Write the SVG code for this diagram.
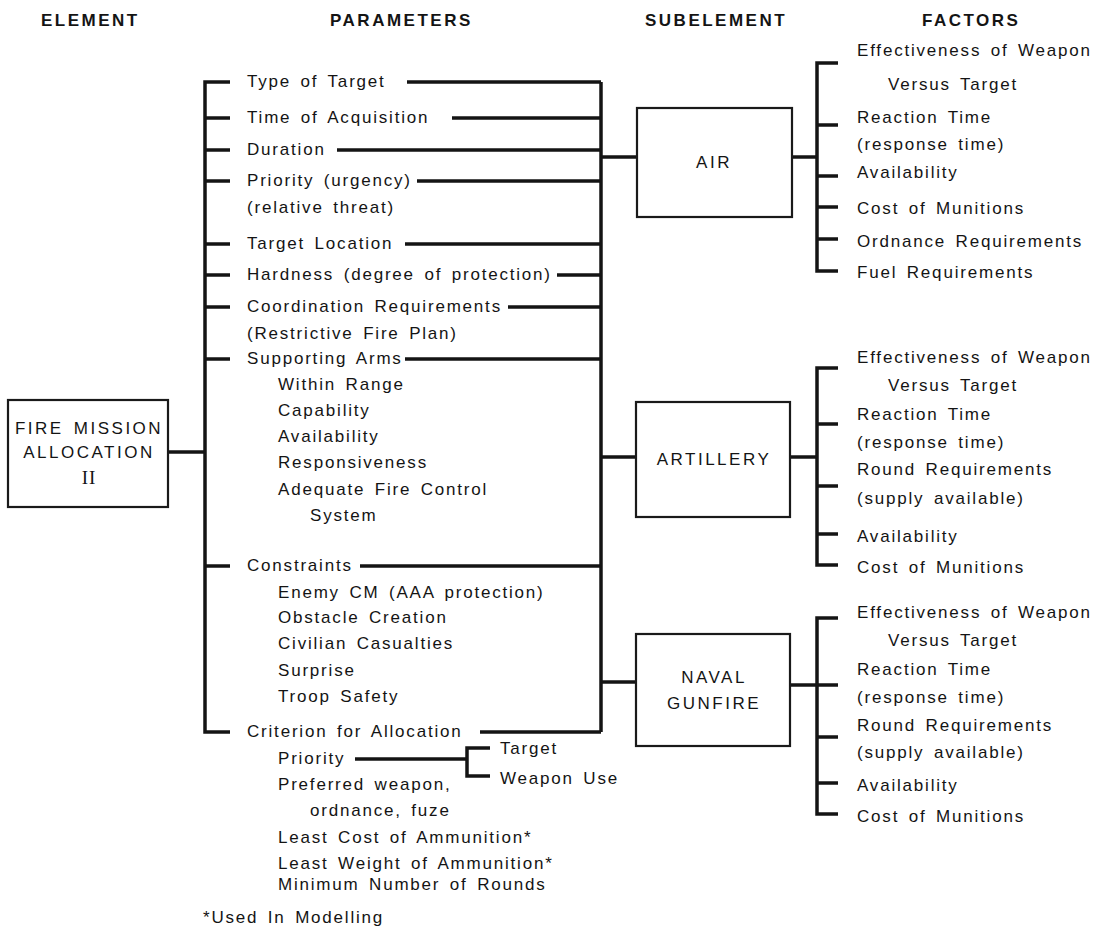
<svg xmlns="http://www.w3.org/2000/svg" width="1098" height="935" viewBox="0 0 1098 935">
  <style>
    .t { font-family: "Liberation Sans", Arial, sans-serif; font-size: 17px; letter-spacing: 1.8px; word-spacing: 3px; fill: #141414; }
    .h { font-weight: bold; letter-spacing: 2.5px; }
    .c { text-anchor: middle; letter-spacing: 2.5px; }
    .serif { font-family: "Liberation Serif", "Times New Roman", serif; font-size: 19px; letter-spacing: 1px; }
    .box { fill: #ffffff; stroke: #1a1a1a; stroke-width: 2.2; }
    .ln { fill: none; stroke: #141414; stroke-width: 3.5; stroke-linecap: butt; stroke-linejoin: miter; }
  </style>
  <rect width="1098" height="935" fill="#ffffff"/>

  <!-- column headings -->
  <g id="headings" class="t h">
    <text x="41" y="26">ELEMENT</text>
    <text x="330" y="26">PARAMETERS</text>
    <text x="645" y="26">SUBELEMENT</text>
    <text x="922" y="26">FACTORS</text>
  </g>

  <!-- connectors: brackets, buses and leader lines -->
  <g id="connectors" class="ln">
    <!-- element to parameter bracket -->
    <path d="M168,452 H205"/>
    <path d="M230,82 H205 V732 H230"/>
    <path d="M205,118 H230 M205,150 H230 M205,181 H230 M205,244 H230 M205,275 H230 M205,307 H230 M205,359 H230 M205,566 H230"/>
    <!-- parameter leaders to subelement bus -->
    <path d="M407,82 H601 M452,118 H601 M337,150 H601 M417,181 H601 M405,244 H601 M557,275 H601 M508,307 H601 M405,359 H601 M360,566 H601 M480,732 H601"/>
    <path d="M601,82 V732"/>
    <!-- bus to subelement boxes -->
    <path d="M601,157 H637 M601,457 H636 M601,682 H636"/>
    <!-- priority sub-bracket -->
    <path d="M355,759 H467"/>
    <path d="M490,748 H467 V776 H490"/>
    <!-- AIR factors -->
    <path d="M792,157 H817"/>
    <path d="M838,63 H817 V271 H838"/>
    <path d="M817,125 H838 M817,176 H838 M817,207 H838 M817,239 H838"/>
    <!-- ARTILLERY factors -->
    <path d="M790,457 H817"/>
    <path d="M838,368 H817 V565 H838"/>
    <path d="M817,424 H838 M817,486 H838 M817,534 H838"/>
    <!-- NAVAL GUNFIRE factors -->
    <path d="M790,685 H817"/>
    <path d="M838,618 H817 V814 H838"/>
    <path d="M817,685 H838 M817,737 H838 M817,783 H838"/>
  </g>

  <!-- element -->
  <g id="fire-mission-allocation">
    <rect class="box" x="8" y="400" width="160" height="107"/>
    <text class="t c" x="89" y="434">FIRE MISSION</text>
    <text class="t c" x="89" y="458">ALLOCATION</text>
    <text class="t c serif" x="89" y="484">II</text>
  </g>

  <!-- parameters -->
  <g id="parameters" class="t">
    <text x="247" y="87">Type of Target</text>
    <text x="247" y="123">Time of Acquisition</text>
    <text x="247" y="155">Duration</text>
    <text x="247" y="186">Priority (urgency)</text>
    <text x="247" y="213">(relative threat)</text>
    <text x="247" y="249">Target Location</text>
    <text x="247" y="280">Hardness (degree of protection)</text>
    <text x="247" y="312">Coordination Requirements</text>
    <text x="247" y="339">(Restrictive Fire Plan)</text>
    <text x="247" y="364">Supporting Arms</text>
    <text x="278" y="390">Within Range</text>
    <text x="278" y="416">Capability</text>
    <text x="278" y="442">Availability</text>
    <text x="278" y="468">Responsiveness</text>
    <text x="278" y="495">Adequate Fire Control</text>
    <text x="310" y="521">System</text>
    <text x="247" y="571">Constraints</text>
    <text x="278" y="598">Enemy CM (AAA protection)</text>
    <text x="278" y="623">Obstacle Creation</text>
    <text x="278" y="649">Civilian Casualties</text>
    <text x="278" y="676">Surprise</text>
    <text x="278" y="702">Troop Safety</text>
    <text x="247" y="737">Criterion for Allocation</text>
    <text x="278" y="764">Priority</text>
    <text x="500" y="754">Target</text>
    <text x="500" y="784">Weapon Use</text>
    <text x="278" y="790">Preferred weapon,</text>
    <text x="310" y="816">ordnance, fuze</text>
    <text x="278" y="843">Least Cost of Ammunition*</text>
    <text x="278" y="869">Least Weight of Ammunition*</text>
    <text x="278" y="890">Minimum Number of Rounds</text>
    <text x="203" y="923">*Used In Modelling</text>
  </g>

  <!-- subelements -->
  <g id="air">
    <rect class="box" x="637" y="108" width="155" height="109"/>
    <text class="t c" x="714" y="168">AIR</text>
  </g>
  <g id="artillery">
    <rect class="box" x="636" y="402" width="154" height="115"/>
    <text class="t c" x="714" y="465">ARTILLERY</text>
  </g>
  <g id="naval-gunfire">
    <rect class="box" x="636" y="634" width="154" height="112"/>
    <text class="t c" x="714" y="683">NAVAL</text>
    <text class="t c" x="714" y="709">GUNFIRE</text>
  </g>

  <!-- factors -->
  <g id="air-factors" class="t">
    <text x="857" y="56">Effectiveness of Weapon</text>
    <text x="888" y="90">Versus Target</text>
    <text x="857" y="123">Reaction Time</text>
    <text x="857" y="150">(response time)</text>
    <text x="857" y="178">Availability</text>
    <text x="857" y="214">Cost of Munitions</text>
    <text x="857" y="247">Ordnance Requirements</text>
    <text x="857" y="278">Fuel Requirements</text>
  </g>
  <g id="artillery-factors" class="t">
    <text x="857" y="363">Effectiveness of Weapon</text>
    <text x="888" y="391">Versus Target</text>
    <text x="857" y="420">Reaction Time</text>
    <text x="857" y="448">(response time)</text>
    <text x="857" y="475">Round Requirements</text>
    <text x="857" y="504">(supply available)</text>
    <text x="857" y="542">Availability</text>
    <text x="857" y="573">Cost of Munitions</text>
  </g>
  <g id="naval-factors" class="t">
    <text x="857" y="618">Effectiveness of Weapon</text>
    <text x="888" y="646">Versus Target</text>
    <text x="857" y="675">Reaction Time</text>
    <text x="857" y="703">(response time)</text>
    <text x="857" y="731">Round Requirements</text>
    <text x="857" y="758">(supply available)</text>
    <text x="857" y="791">Availability</text>
    <text x="857" y="822">Cost of Munitions</text>
  </g>
</svg>
